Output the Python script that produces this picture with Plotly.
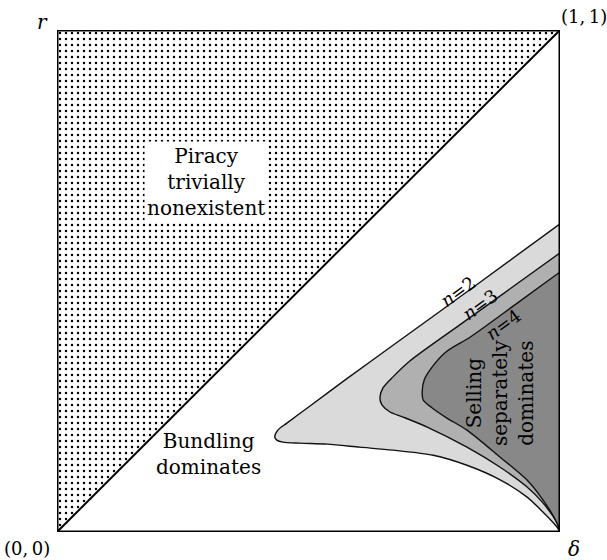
import plotly.graph_objects as go

# Region boundaries in the (delta, r) unit square.
# Each boundary runs from the right edge (delta = 1) along the upper branch,
# round the tip, and back along the lower branch to (1, 0).
n2_x = [1.000, 0.835, 0.668, 0.577, 0.503, 0.457, 0.439, 0.433, 0.437, 0.449,
        0.483, 0.537, 0.602, 0.668, 0.748, 0.815, 0.881, 0.934, 0.966, 0.994, 1.000]
n2_y = [0.614, 0.493, 0.372, 0.306, 0.251, 0.217, 0.203, 0.189, 0.183, 0.179,
        0.177, 0.175, 0.169, 0.163, 0.153, 0.133, 0.104, 0.070, 0.040, 0.010, 0.000]

n3_x = [1.000, 0.900, 0.800, 0.702, 0.668, 0.648, 0.642, 0.646, 0.662, 0.688,
        0.736, 0.815, 0.881, 0.934, 0.966, 0.994, 1.000]
n3_y = [0.556, 0.484, 0.412, 0.341, 0.309, 0.287, 0.267, 0.253, 0.239, 0.229,
        0.209, 0.169, 0.129, 0.090, 0.058, 0.018, 0.000]

n4_x = [1.000, 0.915, 0.821, 0.775, 0.746, 0.730, 0.726, 0.728, 0.746, 0.775,
        0.815, 0.881, 0.934, 0.966, 0.994, 1.000]
n4_y = [0.518, 0.456, 0.388, 0.360, 0.329, 0.303, 0.279, 0.263, 0.247, 0.227,
        0.203, 0.149, 0.104, 0.064, 0.018, 0.000]

region_colors = ["#dadada", "#b0b0b0", "#888888"]

# Corners of the triangle where piracy is trivially nonexistent (r > delta)
piracy_x = [0, 0, 1]
piracy_y = [0, 1, 1]

SERIF = "DejaVu Serif"
INK = "#000000"

fig = go.Figure()

# Dotted triangle above the diagonal
fig.add_trace(go.Scatter(
    x=piracy_x, y=piracy_y, mode="lines", fill="toself",
    fillcolor="white",
    fillpattern=dict(shape=".", size=6, solidity=0.13, fgcolor="black",
                     bgcolor="white", fgopacity=1),
    line=dict(width=0), hoverinfo="skip", showlegend=False,
))

# Diagonal r = delta
fig.add_trace(go.Scatter(
    x=[0, 1], y=[0, 1], mode="lines",
    line=dict(color="black", width=2), hoverinfo="skip", showlegend=False,
))

# Nested regions where selling separately dominates, n = 2, 3, 4
for bx, by, col in zip([n2_x, n3_x, n4_x], [n2_y, n3_y, n4_y], region_colors):
    fig.add_trace(go.Scatter(
        x=bx, y=by, mode="lines", fill="toself", fillcolor=col,
        line=dict(color="#111111", width=1.4, shape="spline", smoothing=0.8),
        hoverinfo="skip", showlegend=False,
    ))

# Frame of the unit square
fig.add_shape(type="rect", xref="x", yref="y", x0=0, y0=0, x1=1, y1=1,
              line=dict(color="black", width=3), fillcolor="rgba(0,0,0,0)")

big = dict(family=SERIF, size=20, color=INK)
mid = dict(family=SERIF, size=18, color=INK)


def note(x, y, text, font, ref="x", **kw):
    return dict(x=x, y=y, xref=ref, yref=ref.replace("x", "y"), text=text,
                showarrow=False, font=font, xanchor="center", yanchor="middle", **kw)


annotations = [
    note(0.297, 0.697, "Piracy<br>trivially<br>nonexistent", big,
         bgcolor="white", borderpad=2),
    note(0.301, 0.156, "Bundling<br>dominates", big),
    note(0.881, 0.277, "Selling<br>separately<br>dominates", big, textangle=-90),
    note(0.797, 0.479, "<i>n</i>=2", mid, textangle=-36),
    note(0.841, 0.453, "<i>n</i>=3", mid, textangle=-36),
    note(0.887, 0.414, "<i>n</i>=4", mid, textangle=-36),
    note(-0.028, 1.016, "<i>r</i>", big, ref="paper"),
    note(1.048, 1.026, "(1,\u20091)", mid, ref="paper"),
    note(-0.060, -0.032, "(0,\u20090)", mid, ref="paper"),
    note(1.028, -0.034, "<i>δ</i>", big, ref="paper"),
]

fig.update_layout(
    width=607, height=560,
    margin=dict(l=57, r=47, t=30, b=28),
    paper_bgcolor="white", plot_bgcolor="white",
    xaxis=dict(range=[0, 1], visible=False, fixedrange=True),
    yaxis=dict(range=[0, 1], visible=False, fixedrange=True),
    annotations=annotations,
    showlegend=False,
)

fig.write_html("out.html")
